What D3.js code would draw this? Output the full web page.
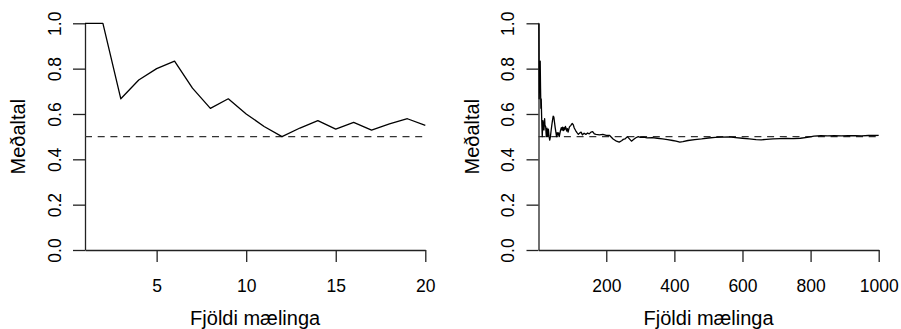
<!DOCTYPE html>
<html>
<head>
<meta charset="utf-8">
<script src="https://cdn.jsdelivr.net/npm/d3@7"></script>
<style>
  body { margin: 0; background: #fff; }
  text { font-family: "Liberation Sans", Arial, sans-serif; fill: #000; }
</style>
</head>
<body>
<svg id="svg" width="901" height="329"></svg>
<script>
// running mean after each measurement, first 20 measurements
const leftN = [1, 2, 3, 4, 5, 6, 7, 8, 9, 10, 11, 12, 13, 14, 15, 16, 17, 18, 19, 20];
const leftMeans = [1, 1, 0.667, 0.75, 0.8, 0.833, 0.714, 0.625, 0.667, 0.6,
  0.545, 0.5, 0.538, 0.571, 0.533, 0.563, 0.529, 0.556, 0.579, 0.55];

// running mean
const rightN = [1, 2, 3, 4, 5, 6, 7, 8, 9, 10, 11, 12, 13, 14, 15, 16, 17, 18, 19, 20,
  22, 24, 26, 28, 30, 32, 34, 36, 38, 40, 42, 44, 46, 48, 50, 52, 54, 56, 58, 60,
  62, 64, 66, 68, 70, 72, 74, 76, 78, 80, 82, 84, 86, 88, 90, 92, 96, 100, 103, 106,
  110, 114, 118, 122, 126, 130, 135, 140, 145, 150, 155, 160, 165, 170, 180, 190, 200, 210, 220, 230,
  238, 245, 250, 255, 262, 268, 274, 280, 287, 294, 300, 310, 320, 335, 350, 365, 380, 395, 405, 416,
  425, 440, 460, 480, 500, 520, 540, 560, 580, 600, 620, 640, 655, 670, 690, 710, 730, 750, 770, 790,
  810, 830, 850, 870, 890, 910, 930, 950, 970, 985, 1000];
const rightMeans = [1, 1, 0.667, 0.75, 0.8, 0.833, 0.714, 0.625, 0.667, 0.6,
  0.545, 0.5, 0.538, 0.571, 0.533, 0.563, 0.529, 0.556, 0.579, 0.55,
  0.545, 0.5, 0.538, 0.5, 0.533, 0.5, 0.485, 0.5, 0.526, 0.55, 0.571, 0.59, 0.587, 0.563, 0.54, 0.52, 0.5, 0.518, 0.507, 0.517,
  0.5, 0.516, 0.53, 0.54, 0.529, 0.542, 0.527, 0.54, 0.53, 0.545, 0.537, 0.525, 0.535, 0.52, 0.533, 0.543, 0.55, 0.558, 0.553, 0.538,
  0.527, 0.518, 0.51, 0.516, 0.52, 0.508, 0.515, 0.51, 0.516, 0.512, 0.52, 0.522, 0.512, 0.51, 0.508, 0.51, 0.506, 0.505, 0.49, 0.48,
  0.476, 0.482, 0.488, 0.49, 0.5, 0.49, 0.48, 0.487, 0.495, 0.5, 0.497, 0.498, 0.495, 0.496, 0.493, 0.49, 0.487, 0.483, 0.48, 0.476,
  0.478, 0.483, 0.487, 0.49, 0.494, 0.497, 0.498, 0.499, 0.496, 0.493, 0.49, 0.487, 0.486, 0.488, 0.49, 0.491, 0.492, 0.491, 0.493, 0.497,
  0.502, 0.504, 0.503, 0.504, 0.503, 0.504, 0.504, 0.503, 0.505, 0.505, 0.506];

const yTicks = [0, 0.2, 0.4, 0.6, 0.8, 1.0];
const leftXTicks = [5, 10, 15, 20];
const rightXTicks = [200, 400, 600, 800, 1000];
const refLevel = 0.5;
const xLabel = "Fjöldi mælinga";
const yLabel = "Meðaltal";

const svg = d3.select("#svg");
const plotTop = 23.3;
const plotBottom = 250;
const tickLen = 12;

const yScale = d3.scaleLinear().domain([0, 1]).range([plotBottom, plotTop]);

function drawPanel(left, right, xDomain, xTicks, xs, ys) {
  const xScale = d3.scaleLinear().domain(xDomain).range([left, right]);
  const g = svg.append("g");

  // y axis (R style, labels parallel to axis)
  const yAxis = d3.axisLeft(yScale)
    .tickValues(yTicks)
    .tickFormat(d3.format(".1f"))
    .tickSize(tickLen)
    .tickSizeOuter(0);
  const ya = g.append("g")
    .attr("transform", `translate(${left}, 0)`)
    .call(yAxis);
  ya.selectAll("text")
    .attr("x", null)
    .attr("dy", null)
    .attr("text-anchor", "middle")
    .attr("transform", "translate(-24.5, 0) rotate(-90)")
    .style("font-size", "17.5px");
  ya.attr("font-family", null);

  // x axis
  const xAxis = d3.axisBottom(xScale)
    .tickValues(xTicks)
    .tickFormat(d3.format("d"))
    .tickSize(tickLen)
    .tickSizeOuter(0);
  const xa = g.append("g")
    .attr("transform", `translate(0, ${plotBottom})`)
    .call(xAxis);
  xa.selectAll("text")
    .attr("y", 42)
    .attr("dy", null)
    .style("font-size", "17.5px");
  xa.attr("font-family", null);

  g.selectAll(".domain, .tick line")
    .attr("stroke", "#222")
    .attr("stroke-width", 1.3);
  g.selectAll(".domain").attr("fill", "none");

  // reference line
  g.append("line")
    .attr("x1", xScale(xDomain[0]))
    .attr("x2", xScale(xDomain[1]))
    .attr("y1", yScale(refLevel))
    .attr("y2", yScale(refLevel))
    .attr("stroke", "#333")
    .attr("stroke-width", 1.2)
    .attr("stroke-dasharray", "7,5.7");

  // running mean
  const line = d3.line()
    .x((d, i) => xScale(xs[i]))
    .y(d => yScale(d));
  g.append("path")
    .datum(ys)
    .attr("d", line)
    .attr("fill", "none")
    .attr("stroke", "#000")
    .attr("stroke-width", 1.3)
    .attr("stroke-linejoin", "round");

  // axis titles
  g.append("text")
    .attr("x", (left + right) / 2)
    .attr("y", 325)
    .attr("text-anchor", "middle")
    .style("font-size", "20px")
    .text(xLabel);

  g.append("text")
    .attr("transform", `translate(${left - 60}, ${(plotTop + plotBottom) / 2}) rotate(-90)`)
    .attr("text-anchor", "middle")
    .style("font-size", "20px")
    .text(yLabel);
}

drawPanel(85, 425.3, [1, 20], leftXTicks, leftN, leftMeans);
drawPanel(538.5, 878.7, [1, 1000], rightXTicks, rightN, rightMeans);
</script>
</body>
</html>
